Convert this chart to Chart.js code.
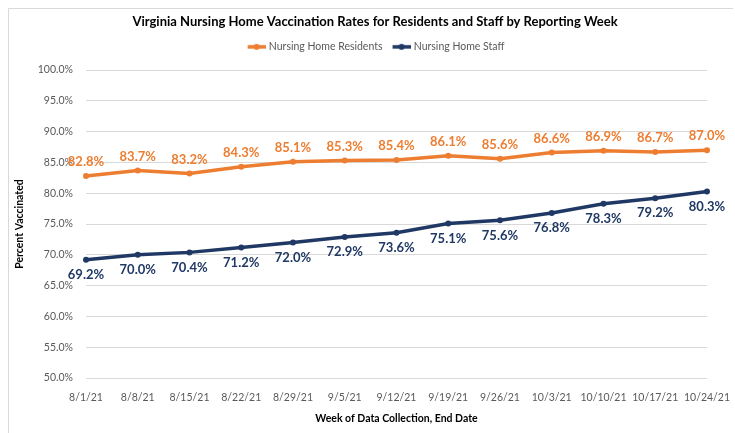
<!DOCTYPE html>
<html>
<head>
<meta charset="utf-8">
<script src="https://cdn.jsdelivr.net/npm/chart.js@4/dist/chart.umd.min.js"></script>
<style>
  html, body { margin: 0; padding: 0; background: #fff; }
  #wrap { width: 735px; height: 433px; position: relative; }
</style>
</head>
<body>
<div id="wrap"><canvas id="vaxChart" width="735" height="433"></canvas></div>
<script>
// week end dates
var weeks = ["8/1/21", "8/8/21", "8/15/21", "8/22/21", "8/29/21", "9/5/21", "9/12/21",
  "9/19/21", "9/26/21", "10/3/21", "10/10/21", "10/17/21", "10/24/21"];

// percent vaccinated
var residentsPct = [82.8, 83.7, 83.2, 84.3, 85.1, 85.3, 85.4, 86.1, 85.6, 86.6, 86.9, 86.7, 87.0];
var staffPct = [69.2, 70.0, 70.4, 71.2, 72.0, 72.9, 73.6, 75.1, 75.6, 76.8, 78.3, 79.2, 80.3];

// y axis
var yMin = 50, yMax = 100, yStep = 5;

var ORANGE = "#ED7D31";
var NAVY = "#1F3864";
var FONT = "Lato, 'Open Sans', sans-serif";

// line-with-dot marker for the legend (small blank on the left as spacing)
function legendMarker(color) {
  var c = document.createElement("canvas");
  c.width = 22; c.height = 8;
  var g = c.getContext("2d");
  g.strokeStyle = color;
  g.lineWidth = 3.5;
  g.beginPath(); g.moveTo(4, 4); g.lineTo(22, 4); g.stroke();
  g.fillStyle = color;
  g.beginPath(); g.arc(13, 4, 3, 0, Math.PI * 2); g.fill();
  return c;
}

// draws the value labels next to each point
var valueLabels = {
  id: "valueLabels",
  afterDatasetsDraw: function(chart, args, opts) {
    var ctx = chart.ctx;
    ctx.save();
    ctx.font = "bold 13px " + FONT;
    ctx.textAlign = "center";
    ctx.textBaseline = "middle";
    chart.data.datasets.forEach(function(ds, i) {
      var meta = chart.getDatasetMeta(i);
      var dy = opts.offsets[i];
      ctx.fillStyle = ds.borderColor;
      meta.data.forEach(function(pt, j) {
        ctx.fillText(ds.data[j].toFixed(1) + "%", pt.x, pt.y + dy);
      });
    });
    ctx.restore();
  }
};

// thin frame on top/left like the pasted excel chart
var frame = {
  id: "frame",
  beforeDraw: function(chart) {
    var ctx = chart.ctx;
    ctx.save();
    ctx.strokeStyle = "#D9D9D9";
    ctx.lineWidth = 1;
    ctx.beginPath();
    ctx.moveTo(8.5, 433); ctx.lineTo(8.5, 8.5); ctx.lineTo(733, 8.5);
    ctx.stroke();
    ctx.restore();
  }
};

// extra room under the legend, and title/legend centred a bit further right
var headerTweak = {
  id: "headerTweak",
  beforeInit: function(chart) {
    var lg = chart.legend;
    var fit = lg.fit;
    lg.fit = function() {
      fit.call(this);
      this.height += 8;
    };
    [chart.legend, chart.titleBlock].forEach(function(box) {
      if (!box) return;
      var draw = box.draw;
      box.draw = function() {
        var c = this.ctx;
        c.save();
        c.translate(15, 0);
        draw.apply(this, arguments);
        c.restore();
      };
    });
  }
};

var ctx = document.getElementById("vaxChart").getContext("2d");
var vaxChart = new Chart(ctx, {
  type: "line",
  data: {
    labels: weeks,
    datasets: [
      {
        label: "Nursing Home Residents",
        data: residentsPct,
        borderColor: ORANGE,
        backgroundColor: ORANGE,
        borderWidth: 3.5,
        pointRadius: 3,
        pointBackgroundColor: ORANGE,
        pointBorderWidth: 0,
        tension: 0
      },
      {
        label: "Nursing Home Staff",
        data: staffPct,
        borderColor: NAVY,
        backgroundColor: NAVY,
        borderWidth: 3.5,
        pointRadius: 3,
        pointBackgroundColor: NAVY,
        pointBorderWidth: 0,
        tension: 0
      }
    ]
  },
  options: {
    responsive: false,
    animation: false,
    layout: { padding: { left: 9, right: 24, top: 0, bottom: 4 } },
    plugins: {
      title: {
        display: true,
        text: "Virginia Nursing Home Vaccination Rates for Residents and Staff by Reporting Week",
        color: "#000",
        font: { family: FONT, size: 13, weight: "bold" },
        padding: { top: 14, bottom: 4 }
      },
      legend: {
        display: true,
        position: "top",
        labels: {
          color: "#595959",
          font: { family: FONT, size: 10.5 },
          usePointStyle: true,
          pointStyleWidth: 18,
          padding: 8,
          generateLabels: function(chart) {
            return chart.data.datasets.map(function(ds, i) {
              return {
                text: ds.label,
                pointStyle: legendMarker(ds.borderColor),
                fillStyle: ds.borderColor,
                strokeStyle: ds.borderColor,
                lineWidth: 0,
                fontColor: "#595959",
                datasetIndex: i
              };
            });
          }
        }
      },
      tooltip: { enabled: false },
      valueLabels: { offsets: [-14, 15] }
    },
    scales: {
      x: {
        grid: { display: false },
        border: { display: false },
        ticks: {
          color: "#595959",
          font: { family: FONT, size: 10.5 },
          autoSkip: false,
          maxRotation: 0,
          padding: 5
        },
        title: {
          display: true,
          text: "Week of Data Collection, End Date",
          color: "#000",
          font: { family: FONT, size: 10.5, weight: "bold" },
          padding: { top: 4, bottom: 4 }
        },
        afterFit: function(scale) { scale.height = 51; }
      },
      y: {
        min: yMin,
        max: yMax,
        grid: { color: "#D9D9D9", drawTicks: false },
        border: { display: false },
        ticks: {
          stepSize: yStep,
          color: "#595959",
          font: { family: FONT, size: 10.5 },
          padding: 13,
          callback: function(v) { return v.toFixed(1) + "%"; }
        },
        title: {
          display: true,
          text: "Percent Vaccinated",
          color: "#000",
          font: { family: FONT, size: 10.5, weight: "bold" },
          padding: { top: 4, bottom: 4 }
        },
        afterFit: function(scale) { scale.width = 77; }
      }
    }
  },
  plugins: [valueLabels, frame, headerTweak]
});
</script>
</body>
</html>
